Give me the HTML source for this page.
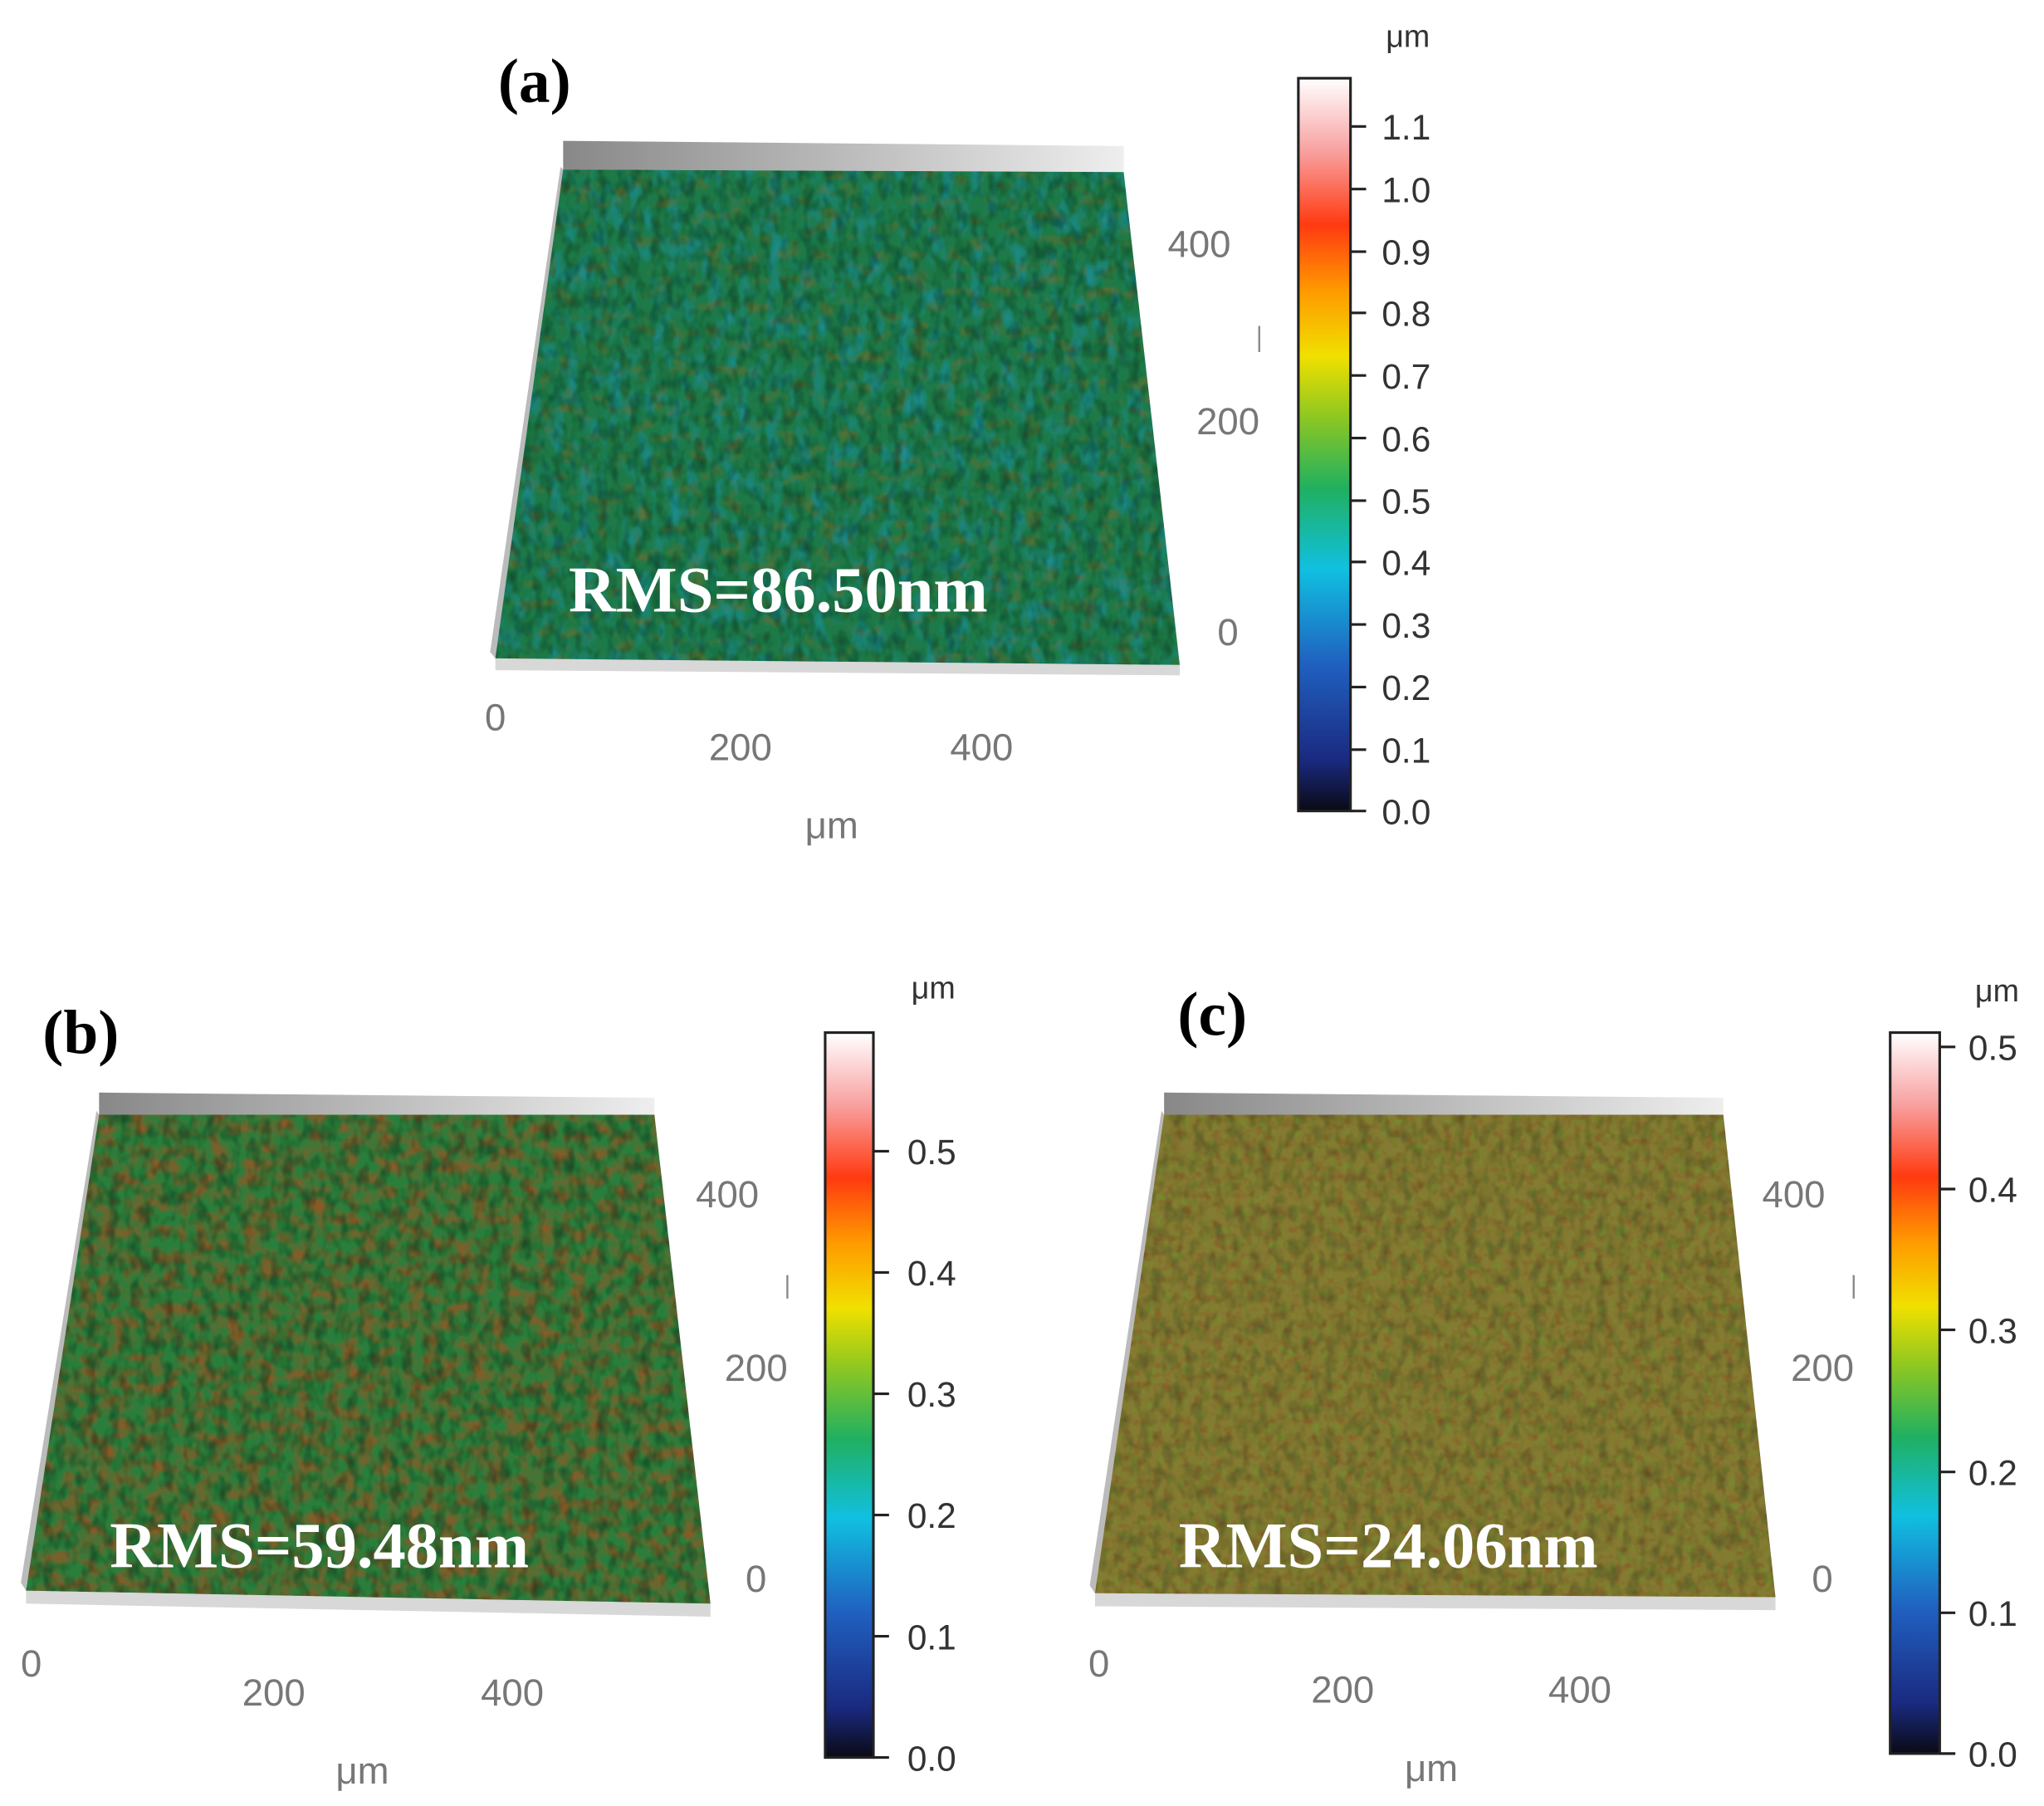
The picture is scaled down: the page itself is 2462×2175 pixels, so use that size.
<!DOCTYPE html>
<html><head><meta charset="utf-8"><style>
html,body{margin:0;padding:0;background:#fff;}
svg{display:block;}
.lab{font-family:"Liberation Serif",serif;font-weight:bold;}
.ax{font-family:"Liberation Sans",sans-serif;fill:#777;}
.cb{font-family:"Liberation Sans",sans-serif;fill:#333;}
</style></head><body>
<svg width="2462" height="2175" viewBox="0 0 1568 1385.2" preserveAspectRatio="none" xmlns="http://www.w3.org/2000/svg">
<defs>
<linearGradient id="cg" x1="0" y1="1" x2="0" y2="0">
<stop offset="0" stop-color="#0a0a14"/>
<stop offset="0.07" stop-color="#1a2a80"/>
<stop offset="0.2" stop-color="#2060c0"/>
<stop offset="0.33" stop-color="#10c0e0"/>
<stop offset="0.44" stop-color="#20b060"/>
<stop offset="0.54" stop-color="#90c820"/>
<stop offset="0.62" stop-color="#f0e000"/>
<stop offset="0.71" stop-color="#ff9a00"/>
<stop offset="0.8" stop-color="#ff3a10"/>
<stop offset="0.9" stop-color="#f8a0a0"/>
<stop offset="1" stop-color="#ffffff"/>
</linearGradient>
<linearGradient id="gs" x1="0" y1="0" x2="1" y2="0">
<stop offset="0" stop-color="#888"/><stop offset="0.5" stop-color="#bbb"/><stop offset="1" stop-color="#eee"/>
</linearGradient>
<filter id="fBlue" x="0" y="0" width="1" height="1">
<feTurbulence type="fractalNoise" baseFrequency="0.09 0.05" numOctaves="2" seed="3"/>
<feColorMatrix type="matrix" values="0 0 0 0 0  0 0 0 0 0  0 0 0 0 0  1.8 0 0 0 -0.8" result="n"/>
<feFlood flood-color="#1a98c0"/><feComposite in2="n" operator="in"/>
</filter>
<filter id="fBrownA" x="0" y="0" width="1" height="1">
<feTurbulence type="fractalNoise" baseFrequency="0.07 0.1" numOctaves="2" seed="9"/>
<feColorMatrix type="matrix" values="0 0 0 0 0  0 0 0 0 0  0 0 0 0 0  0 2 0 0 -1.05" result="n"/>
<feFlood flood-color="#7a6a2a"/><feComposite in2="n" operator="in"/>
</filter>
<filter id="fBrownB" x="0" y="0" width="1" height="1">
<feTurbulence type="fractalNoise" baseFrequency="0.08 0.1" numOctaves="2" seed="5"/>
<feColorMatrix type="matrix" values="0 0 0 0 0  0 0 0 0 0  0 0 0 0 0  0 2.2 0 0 -0.8" result="n"/>
<feFlood flood-color="#8a5a28"/><feComposite in2="n" operator="in"/>
</filter>
<filter id="fGreenC" x="0" y="0" width="1" height="1">
<feTurbulence type="fractalNoise" baseFrequency="0.15 0.12" numOctaves="2" seed="7"/>
<feColorMatrix type="matrix" values="0 0 0 0 0  0 0 0 0 0  0 0 0 0 0  1.8 0 0 0 -0.85" result="n"/>
<feFlood flood-color="#6a9a30"/><feComposite in2="n" operator="in"/>
</filter>
<filter id="fRedC" x="0" y="0" width="1" height="1">
<feTurbulence type="fractalNoise" baseFrequency="0.13 0.15" numOctaves="2" seed="11"/>
<feColorMatrix type="matrix" values="0 0 0 0 0  0 0 0 0 0  0 0 0 0 0  0 1.8 0 0 -0.9" result="n"/>
<feFlood flood-color="#8a4a22"/><feComposite in2="n" operator="in"/>
</filter>
<filter id="fDark" x="0" y="0" width="1" height="1">
<feTurbulence type="fractalNoise" baseFrequency="0.12 0.08" numOctaves="2" seed="21"/>
<feColorMatrix type="matrix" values="0 0 0 0 0  0 0 0 0 0  0 0 0 0 0  0 0 1.8 0 -0.75" result="n"/>
<feFlood flood-color="#0a2010"/><feComposite in2="n" operator="in"/>
</filter>
<clipPath id="ca"><polygon points="432,130 862,132 905,510 380,505"/></clipPath>
<clipPath id="cb2"><polygon points="76,855 502,855 545,1230 20,1220"/></clipPath>
<clipPath id="cc"><polygon points="893,855 1322,855 1362,1225 840,1222"/></clipPath>
</defs>

<!-- Panel a -->
<text class="lab" x="410" y="78" font-size="48" text-anchor="middle">(a)</text>
<polygon points="432,108 862,112 862,132 432,130" fill="url(#gs)"/>
<polygon points="380,505 905,510 905,518 380,514" fill="#d8d8d8"/>
<polygon points="380,505 432,130 430,128 376,500" fill="#bbb"/>
<polygon points="432,130 862,132 905,510 380,505" fill="#1d7a48"/>
<g clip-path="url(#ca)">
<rect x="370" y="120" width="545" height="400" filter="url(#fBlue)" opacity="0.8"/>
<rect x="370" y="120" width="545" height="400" filter="url(#fBrownA)" opacity="0.9"/>
<rect x="370" y="120" width="545" height="400" filter="url(#fDark)" opacity="0.55"/>
</g>
<text x="597" y="469" font-family="Liberation Serif,serif" font-weight="bold" font-size="50" fill="#fff" text-anchor="middle">RMS=86.50nm</text>
<g class="ax" font-size="29">
<text x="380" y="560" text-anchor="middle">0</text>
<text x="568" y="583" text-anchor="middle">200</text>
<text x="753" y="583" text-anchor="middle">400</text>
<text x="638" y="643" text-anchor="middle">μm</text>
<text x="920" y="197" text-anchor="middle">400</text>
<text x="942" y="333" text-anchor="middle">200</text>
<text x="942" y="495" text-anchor="middle">0</text>
</g>
<line x1="966" y1="250" x2="966" y2="270" stroke="#888" stroke-width="1.5"/>
<rect x="996" y="60" width="40" height="562" fill="url(#cg)" stroke="#222" stroke-width="2"/>
<g class="cb" font-size="27">
<text x="1080" y="36" text-anchor="middle" font-size="24">μm</text>
<text x="1060" y="107">1.1</text><text x="1060" y="155">1.0</text><text x="1060" y="203">0.9</text>
<text x="1060" y="250">0.8</text><text x="1060" y="298">0.7</text><text x="1060" y="346">0.6</text>
<text x="1060" y="394">0.5</text><text x="1060" y="441">0.4</text><text x="1060" y="489">0.3</text>
<text x="1060" y="537">0.2</text><text x="1060" y="585">0.1</text><text x="1060" y="632">0.0</text>
</g>
<g stroke="#222" stroke-width="2">
<line x1="1036" y1="97" x2="1048" y2="97"/><line x1="1036" y1="145" x2="1048" y2="145"/><line x1="1036" y1="193" x2="1048" y2="193"/>
<line x1="1036" y1="240" x2="1048" y2="240"/><line x1="1036" y1="288" x2="1048" y2="288"/><line x1="1036" y1="336" x2="1048" y2="336"/>
<line x1="1036" y1="384" x2="1048" y2="384"/><line x1="1036" y1="431" x2="1048" y2="431"/><line x1="1036" y1="479" x2="1048" y2="479"/>
<line x1="1036" y1="527" x2="1048" y2="527"/><line x1="1036" y1="575" x2="1048" y2="575"/><line x1="1036" y1="622" x2="1048" y2="622"/>
</g>

<!-- Panel b -->
<text class="lab" x="62" y="808" font-size="48" text-anchor="middle">(b)</text>
<polygon points="76,838 502,842 502,855 76,855" fill="url(#gs)"/>
<polygon points="20,1220 545,1230 545,1240 20,1230" fill="#d8d8d8"/>
<polygon points="20,1220 76,855 74,852 16,1214" fill="#bbb"/>
<polygon points="76,855 502,855 545,1230 20,1220" fill="#2a7e3c"/>
<g clip-path="url(#cb2)">
<rect x="10" y="845" width="545" height="400" filter="url(#fBrownB)"/>
<rect x="10" y="845" width="545" height="400" filter="url(#fDark)" opacity="0.6"/>
</g>
<text x="245" y="1202" font-family="Liberation Serif,serif" font-weight="bold" font-size="50" fill="#fff" text-anchor="middle">RMS=59.48nm</text>
<g class="ax" font-size="29">
<text x="24" y="1286" text-anchor="middle">0</text>
<text x="210" y="1308" text-anchor="middle">200</text>
<text x="393" y="1308" text-anchor="middle">400</text>
<text x="278" y="1368" text-anchor="middle">μm</text>
<text x="558" y="926" text-anchor="middle">400</text>
<text x="580" y="1059" text-anchor="middle">200</text>
<text x="580" y="1221" text-anchor="middle">0</text>
</g>
<line x1="604" y1="978" x2="604" y2="996" stroke="#888" stroke-width="1.5"/>
<rect x="633" y="792" width="37" height="556" fill="url(#cg)" stroke="#222" stroke-width="2"/>
<g class="cb" font-size="27">
<text x="716" y="766" text-anchor="middle" font-size="24">μm</text>
<text x="696" y="893">0.5</text><text x="696" y="986">0.4</text><text x="696" y="1079">0.3</text>
<text x="696" y="1172">0.2</text><text x="696" y="1265">0.1</text><text x="696" y="1358">0.0</text>
</g>
<g stroke="#222" stroke-width="2">
<line x1="670" y1="883" x2="682" y2="883"/><line x1="670" y1="976" x2="682" y2="976"/><line x1="670" y1="1069" x2="682" y2="1069"/>
<line x1="670" y1="1162" x2="682" y2="1162"/><line x1="670" y1="1255" x2="682" y2="1255"/><line x1="670" y1="1348" x2="682" y2="1348"/>
</g>

<!-- Panel c -->
<text class="lab" x="930" y="794" font-size="48" text-anchor="middle">(c)</text>
<polygon points="893,838 1322,842 1322,855 893,855" fill="url(#gs)"/>
<polygon points="840,1222 1362,1225 1362,1235 840,1232" fill="#d8d8d8"/>
<polygon points="840,1222 893,855 891,852 836,1216" fill="#bbb"/>
<polygon points="893,855 1322,855 1362,1225 840,1222" fill="#857a32"/>
<g clip-path="url(#cc)">
<rect x="830" y="845" width="545" height="400" filter="url(#fGreenC)" opacity="0.7"/>
<rect x="830" y="845" width="545" height="400" filter="url(#fRedC)" opacity="0.8"/>
<rect x="830" y="845" width="545" height="400" filter="url(#fDark)" opacity="0.35"/>
</g>
<text x="1065" y="1202" font-family="Liberation Serif,serif" font-weight="bold" font-size="50" fill="#fff" text-anchor="middle">RMS=24.06nm</text>
<g class="ax" font-size="29">
<text x="843" y="1286" text-anchor="middle">0</text>
<text x="1030" y="1306" text-anchor="middle">200</text>
<text x="1212" y="1306" text-anchor="middle">400</text>
<text x="1098" y="1366" text-anchor="middle">μm</text>
<text x="1376" y="926" text-anchor="middle">400</text>
<text x="1398" y="1059" text-anchor="middle">200</text>
<text x="1398" y="1221" text-anchor="middle">0</text>
</g>
<line x1="1422" y1="978" x2="1422" y2="996" stroke="#888" stroke-width="1.5"/>
<rect x="1450" y="792" width="38" height="553" fill="url(#cg)" stroke="#222" stroke-width="2"/>
<g class="cb" font-size="27">
<text x="1532" y="768" text-anchor="middle" font-size="24">μm</text>
<text x="1510" y="813">0.5</text><text x="1510" y="922">0.4</text><text x="1510" y="1030">0.3</text>
<text x="1510" y="1139">0.2</text><text x="1510" y="1247">0.1</text><text x="1510" y="1355">0.0</text>
</g>
<g stroke="#222" stroke-width="2">
<line x1="1488" y1="803" x2="1500" y2="803"/><line x1="1488" y1="912" x2="1500" y2="912"/><line x1="1488" y1="1020" x2="1500" y2="1020"/>
<line x1="1488" y1="1129" x2="1500" y2="1129"/><line x1="1488" y1="1237" x2="1500" y2="1237"/><line x1="1488" y1="1345" x2="1500" y2="1345"/>
</g>
</svg>
</body></html>
